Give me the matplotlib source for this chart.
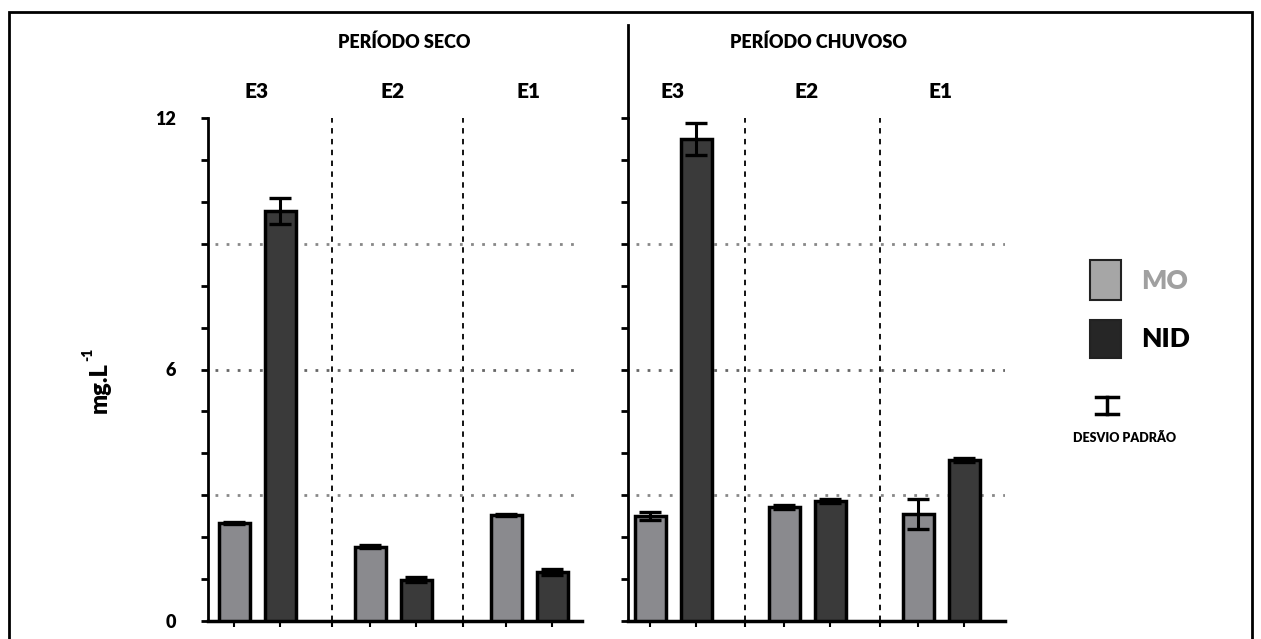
import numpy as np
import matplotlib
matplotlib.use("Agg")
import matplotlib.pyplot as plt
from matplotlib.patches import Rectangle
from matplotlib.lines import Line2D

# dados
periodos = ["PERÍODO SECO", "PERÍODO CHUVOSO"]
estacoes = ["E3", "E2", "E1"]
mo_seco = [2.34, 1.77, 2.53]
mo_seco_err = [0.03, 0.04, 0.03]
nid_seco = [9.78, 0.98, 1.17]
nid_seco_err = [0.32, 0.06, 0.08]
mo_chuv = [2.50, 2.72, 2.55]
mo_chuv_err = [0.10, 0.05, 0.36]
nid_chuv = [11.50, 2.86, 3.84]
nid_chuv_err = [0.38, 0.05, 0.05]

cor_mo = "#8a8a8e"
cor_nid = "#3a3a3a"
plt.rcParams["font.family"] = ["Lato", "DejaVu Sans"]
PESO = "heavy"

W, H = 1261, 639
fig = plt.figure(figsize=(W / 100, H / 100), dpi=100)


def fx(px):
    return px / W


def fy(py):
    return 1 - py / H


y0, y12 = 621, 118
paineis = [
    (208, 582, 257, 136, mo_seco, mo_seco_err, nid_seco, nid_seco_err, [332, 463]),
    (628, 1005, 673, 134, mo_chuv, mo_chuv_err, nid_chuv, nid_chuv_err, [745, 880]),
]

for i, (xa, xb, c0, esp, mo, mo_e, nid, nid_e, seps) in enumerate(paineis):
    ax = fig.add_axes([fx(xa), fy(y0), fx(xb - xa), fy(y12) - fy(y0)])
    ax.set_xlim((xa - c0) / esp, (xb - c0) / esp)
    ax.set_ylim(0, 12)
    x = np.arange(3)
    off = 23 / esp
    bw = 31 / esp
    ek = dict(ecolor="black", elinewidth=2.2, capsize=8, capthick=2.4)
    ax.bar(x - off, mo, bw, yerr=mo_e, color=cor_mo, edgecolor="black",
           linewidth=2.5, error_kw=ek, zorder=3)
    ax.bar(x + off, nid, bw, yerr=nid_e, color=cor_nid, edgecolor="black",
           linewidth=2.5, error_kw=ek, zorder=3)
    for s in seps:
        ax.axvline((s - c0) / esp, color="black", ls=(0, (3, 3)), lw=1.3, zorder=1)
    for g in [3, 9]:
        ax.axhline(g, xmin=0.02, color="#888888", ls=(0, (1, 3)), lw=2, zorder=1)
    ax.axhline(6, xmin=0.02, color="#666666", ls=(0, (1, 3)), lw=2, zorder=1)
    for sp in ["top", "right"]:
        ax.spines[sp].set_visible(False)
    ax.spines["left"].set_linewidth(2)
    ax.spines["bottom"].set_linewidth(2.5)
    ax.set_yticks(np.arange(0, 13, 1))
    rot = {0: "0", 6: "6", 12: "12"}
    ax.set_yticklabels([rot.get(v, "") for v in range(13)] if i == 0 else [])
    ax.tick_params(axis="y", length=5, width=2, labelsize=13, pad=18)
    for lab in ax.get_yticklabels():
        lab.set_fontweight(PESO)
    xt = list(x - off) + list(x + off) + [(s - c0) / esp for s in seps]
    ax.set_xticks(xt)
    ax.set_xticklabels([])
    ax.tick_params(axis="x", length=4, width=1.5)
    for k, e in enumerate(estacoes):
        fig.text(fx(c0 + k * esp), fy(92), e, ha="center", va="center",
                 fontsize=15, fontweight=PESO)

fig.text(fx(404), fy(42), periodos[0], ha="center", va="center", fontsize=13, fontweight=PESO)
fig.text(fx(818), fy(42), periodos[1], ha="center", va="center", fontsize=13, fontweight=PESO)

# divisoria entre os periodos
fig.add_artist(Line2D([fx(628), fx(628)], [fy(25), fy(118)], color="black", lw=2))

# eixo y
fig.text(fx(100), fy(388), "mg.L", rotation=90, ha="center", va="center",
         fontsize=17, fontweight=PESO)
fig.text(fx(88), fy(354), "-1", rotation=90, ha="center", va="center",
         fontsize=10, fontweight=PESO)

# legenda
fig.add_artist(Rectangle((fx(1090), fy(300)), fx(31), fy(260) - fy(300), facecolor="#a6a6a6",
                         edgecolor="#222222", lw=1.5))
fig.add_artist(Rectangle((fx(1090), fy(358)), fx(31), fy(320) - fy(358), facecolor="#262626",
                         edgecolor="#222222", lw=1.5))
fig.text(fx(1141), fy(281), "MO", ha="left", va="center", fontsize=19, fontweight=PESO,
         color="#a0a0a0")
fig.text(fx(1141), fy(339), "NID", ha="left", va="center", fontsize=19, fontweight=PESO,
         color="black")
fig.add_artist(Line2D([fx(1107), fx(1107)], [fy(397), fy(414)], color="black", lw=2.5))
fig.add_artist(Line2D([fx(1096), fx(1118)], [fy(397), fy(397)], color="black", lw=2.5))
fig.add_artist(Line2D([fx(1096), fx(1118)], [fy(414), fy(414)], color="black", lw=2.5))
fig.text(fx(1125), fy(438), "DESVIO PADRÃO", ha="center", va="center", fontsize=9,
         fontweight=PESO)

# moldura
fig.add_artist(Rectangle((fx(9), fy(645)), fx(1243), fy(12) - fy(645), fill=False,
                         edgecolor="black", lw=2))

fig.savefig("out.png", dpi=100)
